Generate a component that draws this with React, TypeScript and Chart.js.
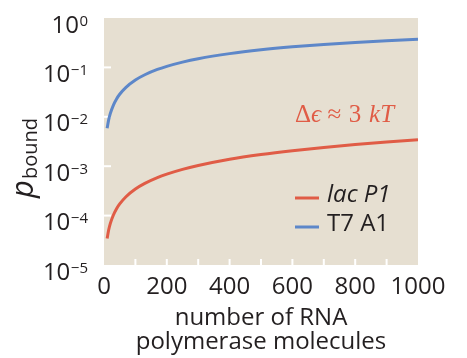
import React, { useEffect, useRef } from 'react';
import { Chart, registerables } from 'chart.js';

Chart.register(...registerables);

// Number of RNA polymerase molecules (x) where the curves were read
const polymeraseCount = [10, 15, 20, 30, 40, 50, 70, 100, 130, 170, 200, 250, 300, 400, 500, 600, 700, 800, 900, 1000];
// p_bound for each promoter
const lacP1 = [3.45e-5, 5.17e-5, 6.9e-5, 1.03e-4, 1.38e-4, 1.72e-4, 2.41e-4, 3.45e-4, 4.48e-4, 5.86e-4, 6.89e-4, 8.61e-4, 1.03e-3, 1.38e-3, 1.72e-3, 2.06e-3, 2.4e-3, 2.75e-3, 3.09e-3, 3.43e-3];
const t7A1 = [0.00585, 0.00875, 0.0116, 0.0173, 0.023, 0.0286, 0.0395, 0.0556, 0.071, 0.0909, 0.105, 0.128, 0.15, 0.19, 0.227, 0.261, 0.292, 0.32, 0.346, 0.37];

const seriesNames = ['lac P1', 'T7 A1'];
const xTickLabels = ['0', '200', '400', '600', '800', '1000'];
const xMinorTicks = [100, 200, 300, 400, 500, 600, 700, 800, 900];
const yTickExponents = [0, -1, -2, -3, -4, -5];
const xTitle = ['number of RNA', 'polymerase molecules'];
const yTitleMain = 'p';
const yTitleSub = 'bound';
const annotation = ['Δ', 'ϵ', ' ≈ ', '3 ', 'kT'];

const RED = '#e05c46';
const BLUE = '#5d87c9';
const BG = '#e6dfd1';
const TEXT = '#231f20';
const SANS = '"Open Sans", "Noto Sans", sans-serif';
const SERIF = '"Liberation Serif", "DejaVu Serif", serif';

const decorPlugin = {
  id: 'decor',
  beforeDraw(chart: any) {
    const { ctx, chartArea: a } = chart;
    ctx.save();
    ctx.fillStyle = BG;
    ctx.fillRect(a.left, a.top, a.right - a.left, a.bottom - a.top);
    ctx.restore();
  },
  beforeDatasetsDraw(chart: any) {
    const { ctx, chartArea: a, scales } = chart;
    ctx.save();
    ctx.strokeStyle = '#ffffff';
    ctx.lineWidth = 2;
    for (const v of xMinorTicks) {
      const x = scales.x.getPixelForValue(v);
      ctx.beginPath();
      ctx.moveTo(x, a.bottom);
      ctx.lineTo(x, a.bottom - 6);
      ctx.stroke();
    }
    for (const e of yTickExponents.slice(1, -1)) {
      const y = scales.y.getPixelForValue(Math.pow(10, e));
      ctx.beginPath();
      ctx.moveTo(a.left, y);
      ctx.lineTo(a.left + 7, y);
      ctx.stroke();
    }
    ctx.restore();
  },
  afterDraw(chart: any) {
    const { ctx, scales } = chart;
    ctx.save();
    // y tick labels 10^n
    ctx.fillStyle = TEXT;
    ctx.textBaseline = 'alphabetic';
    ctx.textAlign = 'left';
    const rightEdge = 88;
    for (const e of yTickExponents) {
      const y = scales.y.getPixelForValue(Math.pow(10, e));
      const sup = e === 0 ? '0' : '\u2212' + String(-e);
      ctx.font = `15px ${SANS}`;
      const sw = ctx.measureText(sup).width;
      ctx.fillText(sup, rightEdge - sw, y + 7.5);
      ctx.font = `24px ${SANS}`;
      const bw = ctx.measureText('10').width;
      ctx.fillText('10', rightEdge - sw - bw - 0.5, y + 14.5);
    }
    // y title
    ctx.save();
    ctx.translate(33, 198);
    ctx.rotate(-Math.PI / 2);
    ctx.font = `italic 31px ${SANS}`;
    ctx.fillText(yTitleMain, 0, 0);
    const pw = ctx.measureText(yTitleMain).width;
    ctx.font = `20px ${SANS}`;
    ctx.fillText(yTitleSub, pw + 1, 4);
    ctx.restore();
    // annotation
    let ax = 295;
    const ay = 122;
    ctx.fillStyle = RED;
    annotation.forEach((s, i) => {
      ctx.font = (i === 1 || i === 4 ? 'italic ' : '') + `25px ${SERIF}`;
      ctx.fillText(s, ax, ay);
      ax += ctx.measureText(s).width + (i === 2 || i === 3 ? 1.5 : 0);
    });
    // legend
    const legendColors = [RED, BLUE];
    const legendY = [198, 227];
    seriesNames.forEach((name, i) => {
      ctx.strokeStyle = legendColors[i];
      ctx.lineWidth = 3;
      ctx.beginPath();
      ctx.moveTo(295, legendY[i]);
      ctx.lineTo(319, legendY[i]);
      ctx.stroke();
      ctx.fillStyle = TEXT;
      ctx.font = (i === 0 ? 'italic ' : '') + `24px ${SANS}`;
      ctx.textBaseline = 'middle';
      ctx.fillText(name, 327, legendY[i] - 3);
    });
    ctx.restore();
  },
};

export default function App() {
  const ref = useRef<HTMLCanvasElement | null>(null);
  useEffect(() => {
    if (!ref.current) return;
    const chart = new Chart(ref.current, {
      type: 'line',
      data: {
        datasets: [
          {
            label: seriesNames[0],
            data: polymeraseCount.map((x, i) => ({ x, y: lacP1[i] })),
            borderColor: RED,
            borderWidth: 3,
            pointRadius: 0,
            cubicInterpolationMode: 'monotone',
          },
          {
            label: seriesNames[1],
            data: polymeraseCount.map((x, i) => ({ x, y: t7A1[i] })),
            borderColor: BLUE,
            borderWidth: 3,
            pointRadius: 0,
            cubicInterpolationMode: 'monotone',
          },
        ],
      },
      options: {
        animation: false,
        responsive: true,
        maintainAspectRatio: false,
        layout: { padding: { left: 0, right: 49, top: 18, bottom: 0 } },
        plugins: { legend: { display: false }, tooltip: { enabled: false } },
        scales: {
          x: {
            type: 'linear',
            min: 0,
            max: 1000,
            grid: { display: false, drawTicks: false },
            border: { display: false },
            afterBuildTicks: (scale: any) => {
              scale.ticks = xTickLabels.map((l) => ({ value: Number(l) }));
            },
            ticks: {
              autoSkip: false,
              maxRotation: 0,
              padding: 8,
              color: TEXT,
              font: { family: SANS, size: 24 },
              callback: (v: any) => String(v),
            },
            title: {
              display: true,
              text: xTitle,
              color: TEXT,
              font: { family: SANS, size: 24, lineHeight: '24px' },
              padding: { top: 0, bottom: 4 },
            },
            afterFit: (scale: any) => {
              scale.height = 93;
            },
          },
          y: {
            type: 'logarithmic',
            min: 1e-5,
            max: 1,
            grid: { display: false, drawTicks: false },
            border: { display: false },
            ticks: { display: false },
            afterFit: (scale: any) => {
              scale.width = 104;
            },
          },
        },
      },
      plugins: [decorPlugin],
    } as any);
    return () => chart.destroy();
  }, []);
  return (
    <div style={{ position: 'fixed', left: 0, top: 0, width: 467, height: 358, background: '#fff' }}>
      <canvas ref={ref} />
    </div>
  );
}
